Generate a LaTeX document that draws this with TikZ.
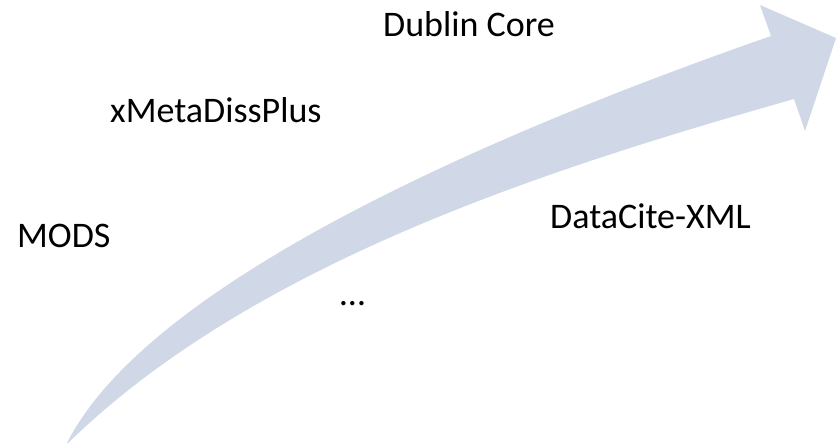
\documentclass[tikz,border=0pt]{standalone}
\usepackage{fontspec}
\setmainfont{Carlito}
\definecolor{arrowfill}{HTML}{D0D8E7}
\begin{document}
\begin{tikzpicture}[x=1pt,y=-1pt,
  lbl/.style={anchor=base west,inner sep=0pt,font=\fontsize{36}{43}\selectfont,text=black}]
\useasboundingbox (0,0) rectangle (836,444);
\fill[arrowfill] (67,443) .. controls (148,283) and (487,135) .. (771,36)
  -- (760,5) -- (836,38) -- (805,131) -- (794,99)
  .. controls (553,167.5) and (255,261) .. (68,443) -- cycle;
\node[lbl] (dc) at (383,37) {Dublin Core};
\node[lbl] (xm) at (110,122) {xMetaDissPlus};
\node[lbl] (mods) at (17,247) {MODS};
\node[lbl] (dcx) at (550,228) {DataCite-XML};
\node[lbl] (dots) at (340,305) {…};
\end{tikzpicture}
\end{document}
